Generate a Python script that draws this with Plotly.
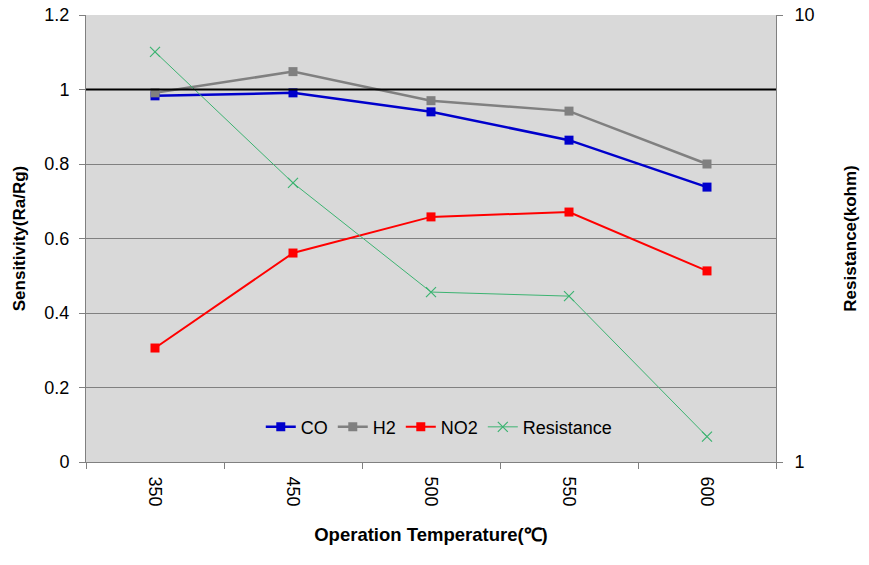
import plotly.graph_objects as go

temps = ["350", "450", "500", "550", "600"]
co = [0.983, 0.991, 0.940, 0.864, 0.738]
h2 = [0.991, 1.048, 0.970, 0.942, 0.800]
no2 = [0.306, 0.561, 0.658, 0.671, 0.513]
resistance = [8.27, 4.21, 2.40, 2.35, 1.14]

FONT = "Liberation Sans, Arial, sans-serif"

fig = go.Figure()
fig.add_trace(go.Scatter(x=temps, y=co, name="CO", mode="lines+markers",
                         line=dict(color="#0000CC", width=2.5),
                         marker=dict(symbol="square", size=9, color="#0000CC")))
fig.add_trace(go.Scatter(x=temps, y=h2, name="H2", mode="lines+markers",
                         line=dict(color="#808080", width=2.5),
                         marker=dict(symbol="square", size=9, color="#808080")))
fig.add_trace(go.Scatter(x=temps, y=no2, name="NO2", mode="lines+markers",
                         line=dict(color="#FF0000", width=2),
                         marker=dict(symbol="square", size=9, color="#FF0000")))
fig.add_trace(go.Scatter(x=temps, y=resistance, name="Resistance", mode="lines+markers",
                         yaxis="y2",
                         line=dict(color="#3CB371", width=1),
                         marker=dict(symbol="x-thin", size=10,
                                     line=dict(color="#3CB371", width=1.2), color="#3CB371")))

fig.add_shape(type="line", xref="paper", yref="y", x0=0, x1=1, y0=1, y1=1,
              line=dict(color="black", width=2), layer="above")

fig.update_layout(
    width=869, height=565,
    margin=dict(l=86, r=93, t=15, b=103, autoexpand=False),
    paper_bgcolor="white", plot_bgcolor="#D9D9D9",
    font=dict(family=FONT, size=18, color="black"),
    showlegend=True,
    legend=dict(orientation="h", x=0.512, xanchor="center", y=0.078, yanchor="middle",
                bgcolor="rgba(0,0,0,0)", font=dict(size=18), itemwidth=30,
                tracegroupgap=0),
    xaxis=dict(type="category", range=[-0.5, 4.5], tickangle=90, showline=True, linecolor="#808080",
               linewidth=1, ticks="outside", tickson="boundaries", ticklen=6,
               tickcolor="#808080", showgrid=False, mirror=False, automargin=False,
               ticklabelstandoff=10,
               title=dict(text="Operation Temperature(℃)", font=dict(size=18.5, family=FONT, weight="bold"),
                          standoff=22),
               tickfont=dict(size=18)),
    yaxis=dict(range=[0, 1.2], dtick=0.2, tick0=0, showline=True, linecolor="#808080",
               ticks="outside", ticklen=6, tickcolor="#808080", showgrid=True,
               gridcolor="#808080", gridwidth=1, zeroline=False, automargin=False,
               ticklabelstandoff=6,
               tickfont=dict(size=18),
               title=dict(text="Sensitivity(Ra/Rg)", font=dict(size=17, family=FONT, weight="bold"),
                          standoff=14)),
    yaxis2=dict(type="log", range=[0, 1], overlaying="y", side="right",
                tickvals=[1, 10], ticktext=["1", "10"], showline=True, linecolor="#808080",
                ticks="outside", ticklen=6, tickcolor="#808080", showgrid=False, zeroline=False,
                automargin=False, ticklabelstandoff=8,
                tickfont=dict(size=18),
                title=dict(text="Resistance(kohm)", font=dict(size=17, family=FONT, weight="bold"),
                           standoff=30)),
)

fig.write_html("out.html")
